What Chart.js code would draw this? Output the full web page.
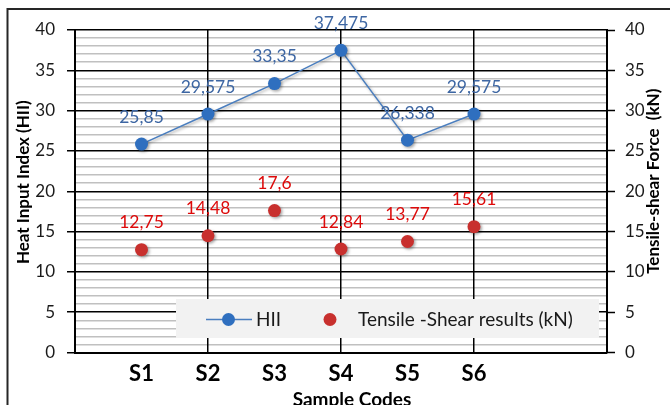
<!DOCTYPE html>
<html>
<head>
<meta charset="utf-8">
<script src="https://cdn.jsdelivr.net/npm/chart.js@4.4.1/dist/chart.umd.min.js"></script>
<style>
  html, body { margin: 0; padding: 0; background: #ffffff; }
  #wrap { position: relative; width: 670px; height: 405px; }
</style>
</head>
<body>
<div id="wrap"><canvas id="c"></canvas></div>
<script>
// ---- data ----
const categories = ['S1', 'S2', 'S3', 'S4', 'S5', 'S6'];
const hiiValues = [25.85, 29.575, 33.35, 37.475, 26.338, 29.575];
const tensileValues = [12.75, 14.48, 17.6, 12.84, 13.77, 15.61];
const seriesNames = ['HII', 'Tensile -Shear results (kN)'];
const axisTitles = { x: 'Sample Codes', yLeft: 'Heat Input Index (HII)', yRight: 'Tensile-shear Force  (kN)' };
const yMin = 0, yMax = 40, yMajor = 5, yMinor = 1;

// category slots: one empty slot before, two after (as in the original axis)
const labels = [''].concat(categories, ['', '']);
const hiiData = [null].concat(hiiValues, [null, null]);
const tensileData = [null].concat(tensileValues, [null, null]);

const FONT = "Lato, Carlito, 'Open Sans', sans-serif";
const BLUE_LINE = '#4a7ebf';
const BLUE_PT = '#2f6fbf';
const RED_PT = '#c8302e';
const BLUE_TXT = '#3d66a3';
const RED_TXT = '#dd0a0a';

const fmt = v => String(v).replace('.', ',');

const shadowPlugin = {
  id: 'shadow',
  beforeDatasetDraw(chart) {
    const ctx = chart.ctx;
    ctx.save();
    ctx.shadowColor = 'rgba(0,0,0,0.35)';
    ctx.shadowBlur = 3;
    ctx.shadowOffsetX = 1.5;
    ctx.shadowOffsetY = 1.5;
  },
  afterDatasetDraw(chart) { chart.ctx.restore(); }
};

const legendBox = {
  id: 'legendBox',
  beforeDatasetsDraw(chart) {
    const ctx = chart.ctx, a = chart.chartArea;
    const x0 = a.left + 101, y0 = a.top + 269, w = 423, h = 39;
    ctx.save();
    ctx.fillStyle = '#f2f2f2';
    ctx.fillRect(x0, y0, w, h);
    const cy = y0 + h / 2 + 1;
    // HII entry
    ctx.strokeStyle = BLUE_LINE; ctx.lineWidth = 1.5;
    ctx.beginPath(); ctx.moveTo(x0 + 30, cy); ctx.lineTo(x0 + 76, cy); ctx.stroke();
    ctx.fillStyle = BLUE_PT;
    ctx.beginPath(); ctx.arc(x0 + 52.5, cy, 6.5, 0, Math.PI * 2); ctx.fill();
    ctx.fillStyle = '#1a1a1a';
    ctx.font = '19px ' + FONT;
    ctx.textBaseline = 'middle'; ctx.textAlign = 'left';
    ctx.fillText(chart.data.datasets[0].label, x0 + 80, cy);
    // Tensile entry
    ctx.fillStyle = RED_PT;
    ctx.beginPath(); ctx.arc(x0 + 154, cy, 6.5, 0, Math.PI * 2); ctx.fill();
    ctx.fillStyle = '#1a1a1a';
    ctx.fillText(chart.data.datasets[1].label, x0 + 182, cy);
    ctx.restore();
  }
};

const valueLabels = {
  id: 'valueLabels',
  afterDatasetsDraw(chart) {
    const ctx = chart.ctx;
    ctx.save();
    ctx.font = '17.5px ' + FONT;
    ctx.textAlign = 'center';
    ctx.textBaseline = 'middle';
    chart.data.datasets.forEach((ds, di) => {
      const meta = chart.getDatasetMeta(di);
      ctx.fillStyle = di === 0 ? BLUE_TXT : RED_TXT;
      meta.data.forEach((pt, i) => {
        const v = ds.data[i];
        if (v === null || v === undefined) return;
        ctx.fillText(fmt(v), pt.x, pt.y - 27);
      });
    });
    ctx.restore();
  }
};

const titlesAndFrame = {
  id: 'titlesAndFrame',
  afterDraw(chart) {
    const ctx = chart.ctx, a = chart.chartArea;
    ctx.save();
    ctx.fillStyle = '#000';
    ctx.font = 'bold 17px ' + FONT;
    ctx.textAlign = 'center';
    ctx.textBaseline = 'middle';
    // left title
    ctx.save();
    ctx.translate(24, (a.top + a.bottom) / 2 - 9);
    ctx.rotate(-Math.PI / 2);
    ctx.fillText(axisTitles.yLeft, 0, 0);
    ctx.restore();
    // right title
    ctx.save();
    ctx.translate(654, (a.top + a.bottom) / 2 - 10);
    ctx.rotate(-Math.PI / 2);
    ctx.fillText(axisTitles.yRight, 0, 0);
    ctx.restore();
    // bottom title
    ctx.font = 'bold 19px ' + FONT;
    ctx.fillText(axisTitles.x, (a.left + a.right) / 2 + 11, 400);
    // chart frame
    ctx.strokeStyle = '#262626';
    ctx.lineWidth = 2;
    ctx.strokeRect(7.5, 9, 720, 450);
    ctx.restore();
  }
};

new Chart(document.getElementById('c'), {
  type: 'line',
  data: {
    labels: labels,
    datasets: [
      {
        label: seriesNames[0],
        data: hiiData,
        yAxisID: 'y',
        borderColor: BLUE_LINE,
        borderWidth: 1.5,
        backgroundColor: BLUE_PT,
        pointBackgroundColor: BLUE_PT,
        pointBorderColor: BLUE_PT,
        pointRadius: 6.5,
        pointBorderWidth: 0,
        tension: 0,
        spanGaps: false
      },
      {
        label: seriesNames[1],
        data: tensileData,
        yAxisID: 'y',
        showLine: false,
        borderColor: RED_PT,
        backgroundColor: RED_PT,
        pointBackgroundColor: RED_PT,
        pointBorderColor: RED_PT,
        pointRadius: 6.5,
        pointBorderWidth: 0
      }
    ]
  },
  options: {
    responsive: true,
    maintainAspectRatio: false,
    animation: false,
    layout: { padding: { top: 30, left: 0, right: 0, bottom: 0 } },
    plugins: { legend: { display: false }, tooltip: { enabled: false } },
    scales: {
      x: {
        type: 'category',
        offset: false,
        grid: {
          z: -1,
          color: ctx => (ctx.index % 2 === 0 ? '#000000' : 'rgba(0,0,0,0)'),
          lineWidth: 1.5,
          drawTicks: false
        },
        border: { display: true, color: '#000000', width: 2 },
        ticks: {
          autoSkip: false,
          maxRotation: 0,
          padding: 8,
          color: '#000000',
          font: { family: FONT, size: 22, weight: 'bold' },
          callback: (v, i) => labels[i]
        },
        afterFit: s => { s.height = 52.5; }
      },
      y: {
        position: 'left',
        min: yMin, max: yMax,
        ticks: {
          stepSize: yMinor,
          autoSkip: false,
          padding: 12,
          color: '#1a1a1a',
          font: { family: FONT, size: 17 },
          callback: v => (v % yMajor === 0 ? String(v) : '')
        },
        grid: {
          z: -2,
          color: ctx => (ctx.tick && ctx.tick.value % yMajor === 0 ? '#000000' : '#c0c0c0'),
          lineWidth: 1.5,
          tickColor: ctx => (ctx.tick && ctx.tick.value % yMajor === 0 ? '#000000' : 'rgba(0,0,0,0)'),
          tickLength: 8,
          tickWidth: 1.5
        },
        border: { display: true, color: '#000000', width: 2 },
        afterFit: s => { s.width = 75; }
      },
      y1: {
        position: 'right',
        min: yMin, max: yMax,
        ticks: {
          stepSize: yMinor,
          autoSkip: false,
          padding: 10,
          color: '#1a1a1a',
          font: { family: FONT, size: 17 },
          callback: v => (v % yMajor === 0 ? String(v) : '')
        },
        grid: {
          z: -2,
          drawOnChartArea: false,
          color: ctx => (ctx.tick && ctx.tick.value % yMajor === 0 ? '#000000' : 'rgba(0,0,0,0)'),
          tickColor: ctx => (ctx.tick && ctx.tick.value % yMajor === 0 ? '#000000' : 'rgba(0,0,0,0)'),
          tickLength: 8,
          tickWidth: 1.5
        },
        border: { display: true, color: '#000000', width: 2 },
        afterFit: s => { s.width = 63; }
      }
    }
  },
  plugins: [shadowPlugin, legendBox, valueLabels, titlesAndFrame]
});
</script>
</body>
</html>
